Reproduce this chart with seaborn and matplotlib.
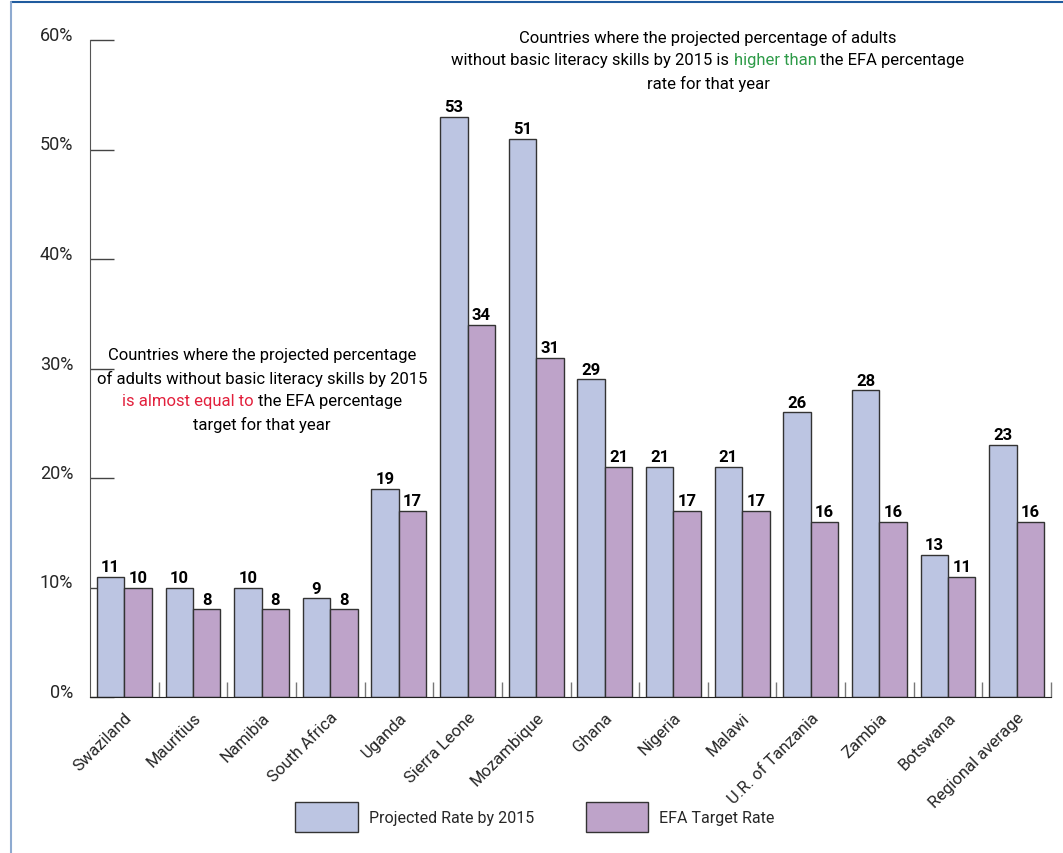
#!/usr/bin/env python3
"""Projected adult illiteracy rates by 2015 vs EFA target rates."""

import pandas as pd
import matplotlib.pyplot as plt
import seaborn as sns
from matplotlib.lines import Line2D
from matplotlib.transforms import IdentityTransform

# data
countries = ['Swaziland', 'Mauritius', 'Namibia', 'South Africa', 'Uganda',
             'Sierra Leone', 'Mozambique', 'Ghana', 'Nigeria', 'Malawi',
             'U.R. of Tanzania', 'Zambia', 'Botswana', 'Regional average']
projected = [11, 10, 10, 9, 19, 53, 51, 29, 21, 21, 26, 28, 13, 23]
efa_target = [10, 8, 8, 8, 17, 34, 31, 21, 17, 17, 16, 16, 11, 16]
series_names = ['Projected Rate by 2015', 'EFA Target Rate']
y_ticks = [0, 10, 20, 30, 40, 50, 60]

BLUE = '#bcc5e2'
PURPLE = '#bea3c9'
GREEN = '#2e9b48'
RED = '#e2203c'
FONT = ['Roboto', 'DejaVu Sans']

W, H = 1063, 854


def colored_line(fig, parts, xc, y_img, size=12):
    """Draw one centred line of text made of (string, colour) pieces."""
    renderer = fig.canvas.get_renderer()
    texts = []
    for s, c in parts:
        t = fig.text(0, 0, s, color=c, fontsize=size, family=FONT,
                     transform=IdentityTransform(), va='center', ha='left')
        texts.append(t)
    widths = [t.get_window_extent(renderer).width for t in texts]
    x = xc - sum(widths) / 2
    for t, w in zip(texts, widths):
        t.set_position((x, H - y_img))
        x += w


def main():
    sns.set_style('white')
    plt.rcParams['font.family'] = FONT

    df = pd.DataFrame({
        'Country': countries * 2,
        'Value': projected + efa_target,
        'Series': [series_names[0]] * len(countries) + [series_names[1]] * len(countries),
    })

    fig = plt.figure(figsize=(W / 100, H / 100), dpi=100)
    ax = fig.add_axes([90 / W, 1 - 698 / H, (1051 - 90) / W, (698 - 41) / H])

    sns.barplot(data=df, x='Country', y='Value', hue='Series',
                palette=[BLUE, PURPLE], saturation=1, width=0.8,
                edgecolor='#333333', linewidth=1.0, ax=ax)

    for cont in ax.containers:
        ax.bar_label(cont, fmt='%d', padding=2, fontsize=12,
                     fontweight='bold', color='black')

    ax.set_xlim(-0.5, len(countries) - 0.5)
    ax.set_ylim(0, 60)
    ax.set_yticks(y_ticks)
    ax.set_yticklabels([f'{v}%' for v in y_ticks], fontsize=13, va='baseline')
    ax.tick_params(axis='y', direction='in', length=17, width=1,
                   color='#444444', pad=12, left=True)
    ax.set_xticks(range(len(countries)))
    ax.set_xticklabels(countries, rotation=45, ha='right', va='top',
                       rotation_mode='anchor', fontsize=12)
    ax.tick_params(axis='x', length=0, pad=9)
    ax.set_xticks([i - 0.5 for i in range(1, len(countries) + 1)], minor=True)
    ax.tick_params(axis='x', which='minor', direction='in', length=11,
                   width=1, color='#777777', bottom=True)
    ax.set_xlabel('')
    ax.set_ylabel('')

    for side in ['top', 'right']:
        ax.spines[side].set_visible(False)
    ax.spines['left'].set_color('#555555')
    ax.spines['bottom'].set_color('#222222')

    # legend below the axes
    handles, labels = ax.get_legend_handles_labels()
    ax.get_legend().remove()
    fig.legend(handles, labels, loc='center',
               bbox_to_anchor=(535 / W, 1 - 818 / H), ncol=2, frameon=False,
               fontsize=11.5, handlelength=3.9, handleheight=2.6,
               handletextpad=0.7, columnspacing=3.25)

    # annotations
    colored_line(fig, [('Countries where the projected percentage of adults', 'black')], 708, 38)
    colored_line(fig, [('without basic literacy skills by 2015 is ', 'black'),
                       ('higher than', GREEN),
                       (' the EFA percentage', 'black')], 708, 61)
    colored_line(fig, [('rate for that year', 'black')], 708, 84)

    colored_line(fig, [('Countries where the projected percentage', 'black')], 262, 356)
    colored_line(fig, [('of adults without basic literacy skills by 2015', 'black')], 262, 379)
    colored_line(fig, [('is almost equal to', RED),
                       (' the EFA percentage', 'black')], 262, 402)
    colored_line(fig, [('target for that year', 'black')], 262, 425)

    # frame lines around the figure
    fig.add_artist(Line2D([11 / W, 1], [1 - 3 / H, 1 - 3 / H],
                          color='#1f5b9e', lw=1.5, transform=fig.transFigure))
    fig.add_artist(Line2D([11 / W, 11 / W], [0, 1 - 3 / H],
                          color='#8eaad0', lw=1.5, transform=fig.transFigure))

    fig.savefig('out.png', dpi=100)
    plt.close(fig)


if __name__ == '__main__':
    main()
